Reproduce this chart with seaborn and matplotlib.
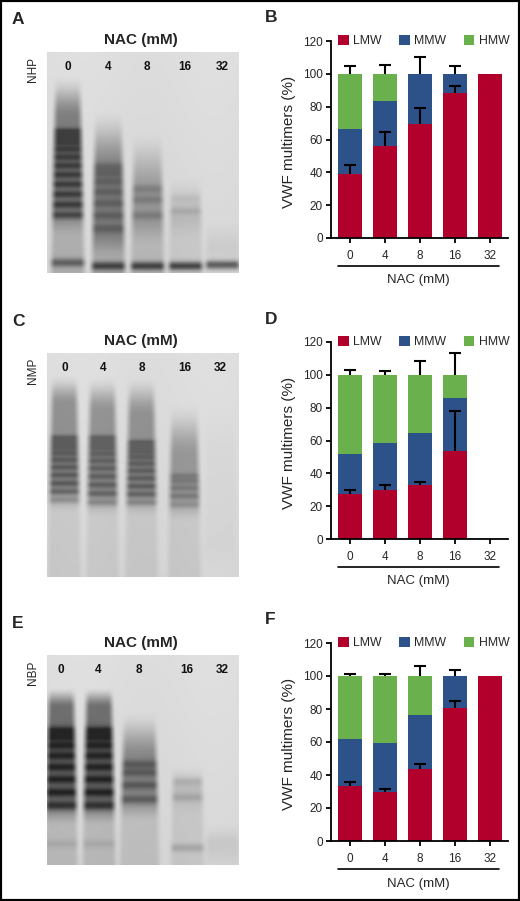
import numpy as np
import pandas as pd
import matplotlib
matplotlib.use("Agg")
import matplotlib.pyplot as plt
import seaborn as sns
from matplotlib.patches import Patch, Rectangle
from matplotlib.lines import Line2D

sns.set_style("ticks")
plt.rcParams['font.family'] = ['Liberation Sans', 'DejaVu Sans']

# ---------------- data ----------------
nac = ["0", "4", "8", "16", "32"]
series = ["LMW", "MMW", "HMW"]
colors = {"LMW": "#B1002B", "MMW": "#2D5189", "HMW": "#6AB04C"}

# panel B (NHP)
b_lmw = [39.1, 56.2, 69.6, 88.6, 100.0]
b_mmw = [27.6, 27.2, 30.4, 11.4, 0.0]
b_hmw = [33.3, 16.6, 0.0, 0.0, 0.0]
b_lmw_err = [5.1, 8.1, 9.7, 3.7, 0.0]
b_top_err = [4.7, 5.3, 10.0, 4.5, 0.0]

# panel D (NMP)
d_lmw = [27.2, 29.6, 32.9, 53.8, 0.0]
d_mmw = [24.3, 28.6, 31.4, 32.2, 0.0]
d_hmw = [48.5, 41.8, 35.7, 14.0, 0.0]
d_lmw_err = [2.8, 3.3, 2.0, 23.9, 0.0]
d_top_err = [3.0, 2.6, 8.5, 13.4, 0.0]

# panel F (NBP)
f_lmw = [33.3, 29.6, 43.8, 80.9, 100.0]
f_mmw = [28.4, 29.6, 32.7, 19.1, 0.0]
f_hmw = [38.3, 40.8, 23.5, 0.0, 0.0]
f_lmw_err = [2.2, 2.2, 2.9, 3.7, 0.0]
f_top_err = [1.4, 1.4, 6.1, 3.7, 0.0]

yticks = [0, 20, 40, 60, 80, 100, 120]
plasma = ["NHP", "NMP", "NBP"]

# ---------------- layout helpers ----------------
W, H = 520, 901
fig = plt.figure(figsize=(W / 100, H / 100), dpi=100)
fig.patch.set_facecolor("white")


def rect(l, t, r, b):
    return [l / W, 1 - b / H, (r - l) / W, (b - t) / H]


def ftext(x, y, s, **kw):
    fig.text(x / W, 1 - y / H, s, **kw)


# ---------------- gel rendering (decorative photo imitation) ----------------
def smooth(a, b, v):
    t = np.clip((v - a) / (b - a), 0, 1)
    return t * t * (3 - 2 * t)


def gel(lanes, bg=0.87, nx=240, ny=280):
    X, Y = np.meshgrid(np.linspace(0, 1, nx), np.linspace(0, 1, ny))
    img = bg - 0.03 * Y + 0.006 * np.sin(X * 9.0)
    for L in lanes:
        cx, w = L["cx"], L.get("w", 0.15)
        wy = w * (0.8 + 0.35 * Y)
        e = 0.022
        hx = smooth(-wy / 2 - e, -wy / 2 + e, X - cx) * (1 - smooth(wy / 2 - e, wy / 2 + e, X - cx))
        top, ramp, end = L["top"], L.get("ramp", 0.15), L["end"]
        env = smooth(top, top + ramp, Y) * (1 - (1 - L.get("tail", 0.3)) * smooth(end - 0.05, end + 0.08, Y))
        bsum = np.zeros_like(Y)
        if L.get("n", 0) > 0:
            lo, hi, n = L["lo"], L["hi"], L["n"]
            pos = lo + (hi - lo) * (np.arange(n) / max(n - 1, 1)) ** 1.3
            sp = (hi - lo) / max(n, 1)
            for p in pos:
                bsum += np.exp(-((Y - p) / (0.4 * sp + 0.004)) ** 2)
        ba = L.get("ba", 0.35)
        dark = L["amp"] * env * (1 - ba + ba * np.clip(bsum, 0, 1))
        if "bot" in L:
            bp, bamp = L["bot"]
            dark = dark + bamp * np.exp(-((Y - bp) / 0.02) ** 2)
        img = img - dark * hx
    return np.clip(img, 0.1, 1)


gel_A = [
    dict(cx=0.107, top=0.10, ramp=0.20, end=0.76, amp=0.62, lo=0.36, hi=0.74, n=11, ba=0.4, tail=0.45, bot=(0.955, 0.3)),
    dict(cx=0.319, top=0.25, ramp=0.30, end=0.86, amp=0.48, lo=0.52, hi=0.80, n=7, ba=0.25, tail=0.5, bot=(0.97, 0.4)),
    dict(cx=0.524, top=0.35, ramp=0.30, end=0.80, amp=0.36, lo=0.62, hi=0.74, n=3, ba=0.3, tail=0.5, bot=(0.97, 0.45)),
    dict(cx=0.723, top=0.55, ramp=0.20, end=0.78, amp=0.20, lo=0.66, hi=0.72, n=2, ba=0.35, tail=0.5, bot=(0.97, 0.5)),
    dict(cx=0.916, top=0.75, ramp=0.15, end=0.92, amp=0.08, n=0, bot=(0.965, 0.45)),
]
gel_C = [
    dict(cx=0.089, top=0.09, ramp=0.14, end=0.64, amp=0.50, lo=0.38, hi=0.66, n=10, ba=0.4, tail=0.22),
    dict(cx=0.288, top=0.10, ramp=0.16, end=0.66, amp=0.48, lo=0.38, hi=0.67, n=10, ba=0.4, tail=0.22),
    dict(cx=0.492, top=0.10, ramp=0.18, end=0.66, amp=0.48, lo=0.40, hi=0.67, n=10, ba=0.4, tail=0.22),
    dict(cx=0.717, top=0.22, ramp=0.24, end=0.68, amp=0.38, lo=0.55, hi=0.68, n=5, ba=0.3, tail=0.25),
    dict(cx=0.906, top=0.2, ramp=0.3, end=0.9, amp=0.03, n=0),
]
gel_E = [
    dict(cx=0.073, top=0.15, ramp=0.10, end=0.74, amp=0.72, lo=0.36, hi=0.72, n=8, ba=0.4, tail=0.3, bot=(0.90, 0.06)),
    dict(cx=0.270, top=0.15, ramp=0.10, end=0.74, amp=0.72, lo=0.36, hi=0.72, n=8, ba=0.4, tail=0.3, bot=(0.90, 0.06)),
    dict(cx=0.482, top=0.26, ramp=0.24, end=0.72, amp=0.50, lo=0.52, hi=0.69, n=4, ba=0.35, tail=0.3, w=0.18),
    dict(cx=0.733, top=0.52, ramp=0.12, end=0.70, amp=0.22, lo=0.60, hi=0.68, n=2, ba=0.45, tail=0.6, bot=(0.92, 0.12)),
    dict(cx=0.916, top=0.80, ramp=0.10, end=0.95, amp=0.10, n=0),
]

gels = [
    ("A", gel_A, (47, 52, 238, 273), [67.5, 108, 147, 185, 222], plasma[0]),
    ("C", gel_C, (47, 353, 238, 577), [65, 103, 142, 185, 220], plasma[1]),
    ("E", gel_E, (47, 655, 238, 865), [61, 98.5, 139, 187, 222], plasma[2]),
]

for letter, lanes, (l, t, r, b), lx, name in gels:
    gax = fig.add_axes(rect(l, t, r, b))
    gax.imshow(gel(lanes), cmap="gray", vmin=0, vmax=1, aspect="auto", interpolation="bilinear")
    gax.set_axis_off()
    ftext(12, t - 32, letter, fontsize=12.5, fontweight="bold", va="center", ha="left")
    ftext((l + r) / 2 - 2, t - 12, "NAC (mM)", fontsize=11, fontweight="bold", va="center", ha="center")
    ftext(33, t + 18, name, fontsize=8.5, rotation=90, va="center", ha="center")
    for x, s in zip(lx, nac):
        ftext(x, t + 15, s, fontsize=8.5, fontweight="bold", va="center", ha="center", color="#111111")

# ---------------- bar panels ----------------
bars = [
    ("B", (331, 41, 508, 238), b_lmw, b_mmw, b_hmw, b_lmw_err, b_top_err),
    ("D", (331, 342, 508, 539), d_lmw, d_mmw, d_hmw, d_lmw_err, d_top_err),
    ("F", (331, 643, 508, 841), f_lmw, f_mmw, f_hmw, f_lmw_err, f_top_err),
]


def upper_errorbar(ax, xs, ys, errs):
    errs = np.asarray(errs)
    m = errs > 0
    eb = ax.errorbar(xs[m], ys[m], yerr=[np.zeros(m.sum()), errs[m]], fmt="none", ecolor="black",
                     elinewidth=1.5, capsize=4.3, capthick=1.5, zorder=5)
    caps = eb[1]
    if len(caps) == 2:
        caps[0].set_visible(False)
    for c in caps:
        c.set_clip_on(False)
    for lc in eb[2]:
        lc.set_clip_on(False)


for letter, (l, t, r, b), lmw, mmw, hmw, le, te in bars:
    ax = fig.add_axes(rect(l, t, r, b))
    lmw = np.array(lmw); mmw = np.array(mmw); hmw = np.array(hmw)
    cum_m = lmw + mmw
    cum_h = cum_m + hmw
    for vals, s in [(cum_h, "HMW"), (cum_m, "MMW"), (lmw, "LMW")]:
        df = pd.DataFrame({"NAC": nac, "val": vals})
        sns.barplot(data=df, x="NAC", y="val", order=nac, color=colors[s], saturation=1,
                    width=0.7, ax=ax, errorbar=None, linewidth=0)
    xs = np.arange(len(nac))
    upper_errorbar(ax, xs, lmw, le)
    upper_errorbar(ax, xs, cum_h, te)
    ax.set_xlim(-0.54, 4.51)
    ax.set_ylim(0, 120)
    ax.set_yticks(yticks)
    ax.set_yticklabels([str(v) for v in yticks])
    ax.set_xlabel("")
    ax.set_ylabel("VWF multimers (%)", fontsize=11)
    ax.yaxis.set_label_coords(-0.2, 0.49)
    sns.despine(ax=ax, top=True, right=True)
    for sp in ["left", "bottom"]:
        ax.spines[sp].set_linewidth(1.3)
        ax.spines[sp].set_color("black")
    ax.tick_params(axis="both", which="major", labelsize=8.5, width=1.3, length=3.5, color="black")
    ax.tick_params(axis="x", pad=5)
    ax.tick_params(axis="y", pad=2.5)
    ax.set_facecolor("none")
    # underline under tick labels and axis title
    ax.add_line(Line2D([-0.34, 4.26], [-0.142, -0.142], transform=ax.get_xaxis_transform(),
                       color="black", lw=1.2, clip_on=False))
    ax.text(1.95, -0.215, "NAC (mM)", transform=ax.get_xaxis_transform(), ha="center", va="center",
            fontsize=9.5)
    handles = [Patch(facecolor=colors[s], edgecolor="none") for s in series]
    ax.legend(handles, series, ncol=3, loc="center", bbox_to_anchor=(0.525, 1.0), frameon=False,
              handlelength=0.85, handleheight=0.85, handletextpad=0.35, columnspacing=1.45,
              borderaxespad=0, borderpad=0, fontsize=8.8)
    ftext(265, t - 23, letter, fontsize=12.5, fontweight="bold", va="center", ha="left")

fig.add_artist(Rectangle((0, 0), 1, 1, transform=fig.transFigure, fill=False, lw=3, edgecolor="black"))

fig.savefig("out.png", dpi=100)
